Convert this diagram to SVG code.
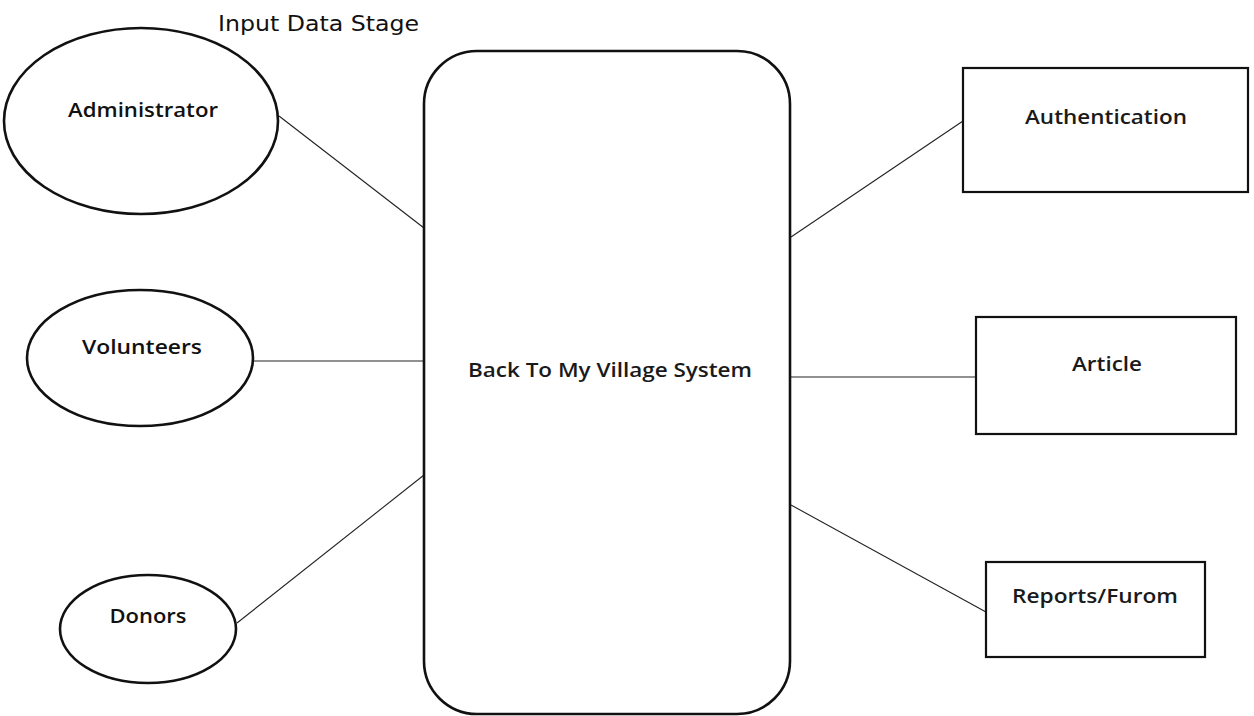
<svg xmlns="http://www.w3.org/2000/svg" width="1254" height="716" viewBox="0 0 1254 716">
  <style>
    .shape { fill: #ffffff; stroke: #111111; stroke-width: 2.6; }
    .box { fill: #ffffff; stroke: #111111; stroke-width: 2.2; }
    .link { fill: none; stroke: #222222; stroke-width: 1.1; }
    .label { font-family: "Open Sans", "Liberation Sans", sans-serif; font-size: 19px; font-weight: 600; fill: #111111; text-anchor: middle; }
    .plain { font-size: 20px; fill: #1a1a1a; }
    .title { font-family: "DejaVu Sans", "Liberation Sans", sans-serif; font-size: 21px; fill: #111111; }
  </style>
  <rect width="1254" height="716" fill="#ffffff"/>

  <text class="title" x="218" y="31" textLength="201" lengthAdjust="spacingAndGlyphs">Input Data Stage</text>

  <!-- connectors -->
  <g id="connectors">
    <line class="link" x1="279" y1="116" x2="424" y2="228"/>
    <line class="link" x1="254" y1="361" x2="424" y2="361"/>
    <line class="link" x1="237" y1="623" x2="424" y2="475"/>
    <line class="link" x1="791" y1="237" x2="963" y2="121"/>
    <line class="link" x1="791" y1="377" x2="976" y2="377"/>
    <line class="link" x1="791" y1="505" x2="986" y2="612"/>
  </g>

  <!-- actors -->
  <g id="administrator">
    <ellipse class="shape" cx="141" cy="121" rx="137" ry="93"/>
    <text class="label" x="143" y="117" textLength="150" lengthAdjust="spacingAndGlyphs">Administrator</text>
  </g>
  <g id="volunteers">
    <ellipse class="shape" cx="140" cy="358" rx="113" ry="68"/>
    <text class="label" x="142" y="354" textLength="120" lengthAdjust="spacingAndGlyphs">Volunteers</text>
  </g>
  <g id="donors">
    <ellipse class="shape" cx="148" cy="629" rx="88" ry="54"/>
    <text class="label" x="148" y="623" textLength="77" lengthAdjust="spacingAndGlyphs">Donors</text>
  </g>

  <!-- system -->
  <g id="system">
    <rect class="shape" x="424" y="51" width="366" height="663" rx="53" ry="53"/>
    <text class="label plain" x="610" y="377" textLength="284" lengthAdjust="spacingAndGlyphs">Back To My Village System</text>
  </g>

  <!-- modules -->
  <g id="authentication">
    <rect class="box" x="963" y="68" width="285" height="124"/>
    <text class="label plain" x="1106" y="124" textLength="162" lengthAdjust="spacingAndGlyphs">Authentication</text>
  </g>
  <g id="article">
    <rect class="box" x="976" y="317" width="260" height="117"/>
    <text class="label plain" x="1107" y="371" textLength="70" lengthAdjust="spacingAndGlyphs">Article</text>
  </g>
  <g id="reports">
    <rect class="box" x="986" y="562" width="219" height="95"/>
    <text class="label plain" x="1095" y="603" textLength="166" lengthAdjust="spacingAndGlyphs">Reports/Furom</text>
  </g>
</svg>
